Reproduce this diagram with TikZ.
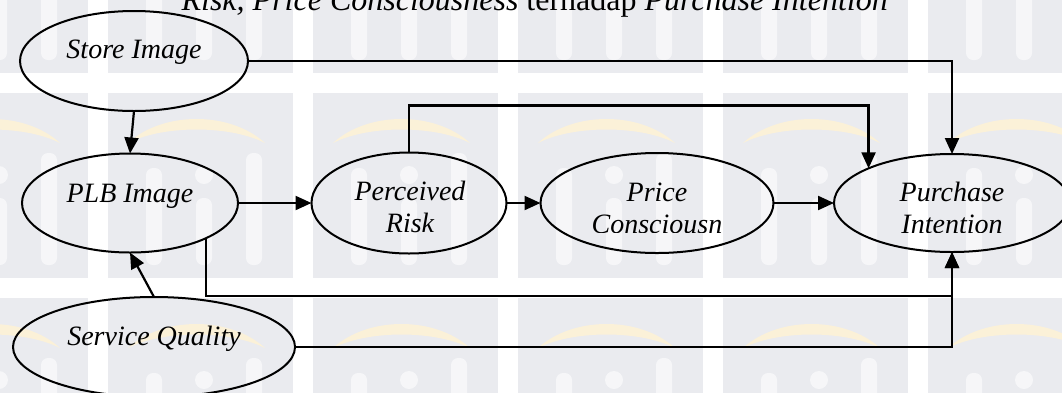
\documentclass[tikz,border=0pt]{standalone}
\usepackage{fontspec}
\setmainfont{Liberation Serif}
\usetikzlibrary{shapes.geometric,arrows.meta,calc}
\definecolor{wmgrey}{RGB}{234,235,239}
\definecolor{wmgold}{RGB}{251,241,216}
\definecolor{wmlight}{RGB}{246,246,248}
\begin{document}
\begin{tikzpicture}[x=1pt,y=-1pt,
  var/.style={ellipse,draw=black,line width=2pt,inner sep=0pt,outer sep=0pt},
  lbl/.style={font=\fontsize{28}{32}\selectfont\itshape,anchor=base,inner sep=0pt},
  arr/.style={line width=2.2pt,-{Triangle[length=16pt,width=14pt]}}]
\useasboundingbox (0,0) rectangle (1062,392);
\clip (0,0) rectangle (1062,392);

% background watermark tiles
\foreach \tx in {-97,108,313,518,723,928}{
  \foreach \ty in {-112,93,298}{
    \fill[wmgrey] (\tx,\ty) rectangle ++(185,185);
    \fill[wmgold] (\tx+20,\ty+50) .. controls (\tx+55,\ty+18) and (\tx+122,\ty+18) .. (\tx+157,\ty+50)
                  .. controls (\tx+122,\ty+32) and (\tx+55,\ty+32) .. cycle;
    \fill[wmlight,rounded corners=7pt] (\tx+38,\ty+75) rectangle (\tx+54,\ty+172);
    \fill[wmlight,rounded corners=7pt] (\tx+88,\ty+105) rectangle (\tx+104,\ty+172);
    \fill[wmlight] (\tx+96,\ty+82) circle (9);
    \fill[wmlight,rounded corners=7pt] (\tx+138,\ty+60) rectangle (\tx+154,\ty+172);
  }
}

% caption line
\node[font=\fontsize{32}{38}\selectfont,anchor=base east,inner sep=0pt] (cap) at (888,10)
  {\textit{Risk, Price Consciousness} terhadap \textit{Purchase Intention}};

% variables
\node[var,minimum width=228pt,minimum height=100pt] (si)  at (134,61)  {};
\node[var,minimum width=216pt,minimum height=99pt]  (plb) at (130,203) {};
\node[var,minimum width=195pt,minimum height=101pt] (pr)  at (409,203) {};
\node[var,minimum width=233pt,minimum height=100pt] (pc)  at (657,203) {};
\node[var,minimum width=236pt,minimum height=98pt]  (pi)  at (952,203) {};
\node[var,minimum width=282pt,minimum height=100pt] (sq)  at (154,347) {};

% labels
\node[lbl] (si-t)  at (134,58)  {Store Image};
\node[lbl] (plb-t) at (130,202) {PLB Image};
\node[lbl] (pr-t)  at (410,200) {\begin{tabular}[t]{@{}c@{}}Perceived\\Risk\end{tabular}};
\node[lbl] (sq-t)  at (154,345) {Service Quality};
\begin{scope}
  \clip (520,0) rectangle (1062,232);
  \node[lbl] (pc-t) at (657,201) {\begin{tabular}[t]{@{}c@{}}Price\\Consciousn\end{tabular}};
  \node[lbl] (pi-t) at (952,201) {\begin{tabular}[t]{@{}c@{}}Purchase\\Intention\end{tabular}};
\end{scope}

% paths
\draw[arr] (si.east) -| (pi.north);
\draw[arr] (si.south) -- (plb.north);
\draw[arr] (plb.east) -- (pr.west);
\draw[arr] (pr.north) -- ++(0,-47) -| (pi.north west);
\draw[arr] (pr.east) -- (pc.west);
\draw[arr] (pc.east) -- (pi.west);
\draw[arr] (plb.south east) |- ([yshift=-44pt]pi.south) -- (pi.south);
\draw[arr] (sq.east) -| (pi.south);
\draw[arr] (sq.north) -- (plb.south);
\end{tikzpicture}
\end{document}
